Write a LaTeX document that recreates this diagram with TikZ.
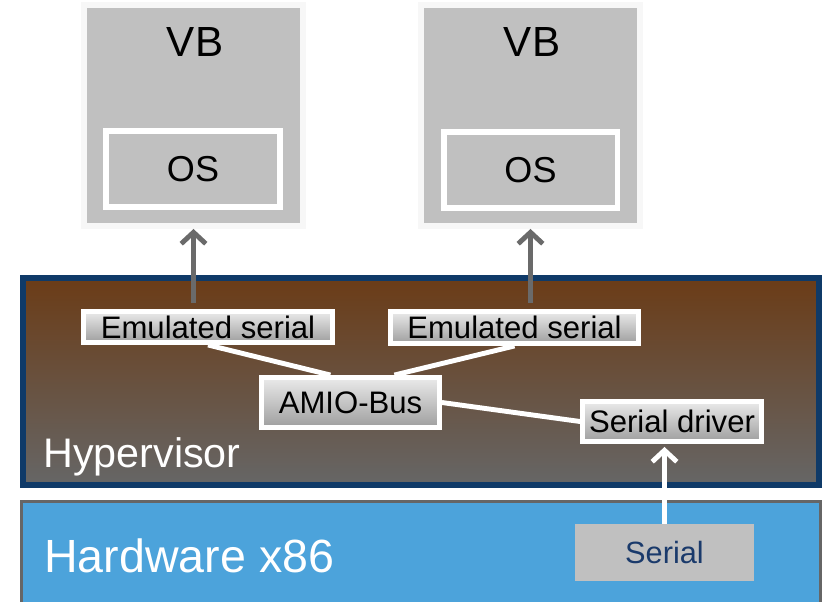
\documentclass[tikz,border=0pt]{standalone}
\usepackage{fontspec}
\setmainfont{Liberation Sans}
\usetikzlibrary{calc,arrows.meta}
\definecolor{vbgray}{HTML}{C0C0C0}
\definecolor{vbedge}{HTML}{F7F7F7}
\definecolor{hvtop}{HTML}{6B3C17}
\definecolor{hvbot}{HTML}{666666}
\definecolor{hvedge}{HTML}{0F3A68}
\definecolor{hwfill}{HTML}{4CA3DB}
\definecolor{hwedge}{HTML}{666666}
\definecolor{sertext}{HTML}{1A3A6B}
\definecolor{arrowgray}{HTML}{6A6A6A}

\tikzset{
	vbbox/.style={draw=vbedge, line width=3.4pt, fill=vbgray, minimum width=4.38cm, minimum height=4.42cm, inner sep=0pt},
	osbox/.style={draw=white, line width=3.4pt, fill=vbgray, minimum width=3.48cm, minimum height=1.52cm, inner sep=0pt, font=\fontsize{20.5}{24}\selectfont},
	hvnode/.style={draw=white, line width=2.8pt, top color=white!92!black, bottom color=black!38, inner sep=0pt, font=\fontsize{17.7}{20}\selectfont},
	link/.style={draw=white, line width=2.8pt},
	upline/.style={line width=2.8pt, -{Straight Barb[length=6.5pt,width=14pt]}},
}

\begin{document}
\begin{tikzpicture}[x=0.02cm, y=-0.02cm]
			%%%%% START %%%%%
			\useasboundingbox (0, 0) rectangle (822, 602);
			
			% virtual machines
			\node[vbbox] (vb1) at (193.5, 115.5) {};
			\node[font=\fontsize{24}{28}\selectfont] (vbl1) at (195, 42) {VB};
			\node[osbox] (os1) at (193, 169) {OS};
			
			\node[vbbox] (vb2) at (530.5, 115.5) {};
			\node[font=\fontsize{24}{28}\selectfont] (vbl2) at (532, 42) {VB};
			\node[osbox] (os2) at (530.5, 170) {OS};
			
			% hypervisor
			\draw[draw=hvedge, line width=3.4pt, top color=hvtop, bottom color=hvbot] (23, 278) rectangle (819, 485);
			\node[anchor=base west, text=white, inner sep=0pt, font=\fontsize{23.5}{28}\selectfont] (hvl) at (43, 467) {Hypervisor};
			
			\node[hvnode, minimum width=4.98cm, minimum height=0.62cm] (es1) at (208, 327) {Emulated serial};
			\node[hvnode, minimum width=4.96cm, minimum height=0.64cm] (es2) at (514.5, 327.5) {Emulated serial};
			\node[hvnode, minimum width=3.56cm, minimum height=1.0cm] (amio) at (350.5, 402.5) {AMIO-Bus};
			\node[hvnode, minimum width=3.58cm, minimum height=0.8cm] (sd) at (672, 421.5) {Serial driver};
			
			% hardware
			\draw[draw=hwedge, line width=1.7pt, fill=hwfill] (21.5, 501.5) rectangle (820.5, 612);
			\node[anchor=base west, text=white, inner sep=0pt, font=\fontsize{26.5}{30}\selectfont] (hwl) at (44, 572) {Hardware x86};
			\node[fill=vbgray, minimum width=3.58cm, minimum height=1.14cm, inner sep=0pt, text=sertext, font=\fontsize{17.5}{20}\selectfont] (ser) at (664.5, 552.5) {Serial};
			
			% connections
			\draw[link] (es1.south) -- ($(amio.north west)!0.39!(amio.north east)$);
			\draw[link] (es2.south) -- ($(amio.north west)!0.74!(amio.north east)$);
			\draw[link] (amio.east) -- (sd.west);
			
			\draw[upline, arrowgray] ($(vb1.south |- es1.north)+(0, -6)$) -- (vb1.south);
			\draw[upline, arrowgray] ($(vb2.south |- es2.north)+(0, -6)$) -- (vb2.south);
			\draw[upline, white] (ser.north) -- ($(ser.north |- sd.south)+(0, 3)$);
			
			%%%%% END %%%%%
\end{tikzpicture}
\end{document}
